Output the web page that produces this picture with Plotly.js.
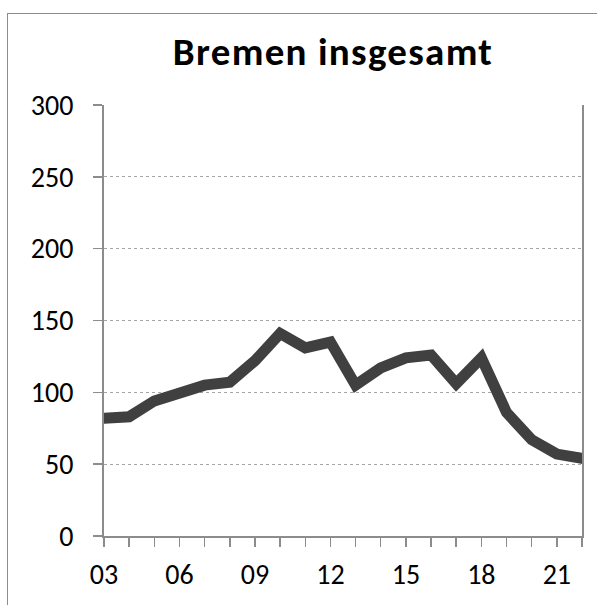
<!DOCTYPE html>
<html>
<head>
<meta charset="utf-8">
<script src="https://cdn.plot.ly/plotly-3.0.1.min.js"></script>
<style>
  html, body { margin: 0; padding: 0; background: #fff; }
  #frame { position: absolute; left: 7px; top: 13px; width: 620px; height: 620px; border: 1.5px solid #8c8c8c; box-sizing: border-box; pointer-events: none; }
  #chart { position: absolute; left: 0; top: 0; width: 597px; height: 605px; }
  path.js-line { stroke-linecap: round; }
  .gtitle { letter-spacing: 1.3px; }
</style>
</head>
<body>
<div id="chart"></div>
<div id="frame"></div>
<script>
const years = [3, 4, 5, 6, 7, 8, 9, 10, 11, 12, 13, 14, 15, 16, 17, 18, 19, 20, 21, 22];
const values = [82, 83, 94, 100, 105, 107, 122, 141, 131, 135, 105, 117, 124, 126, 106, 124, 86, 67, 57, 54];
const tickLabels = ['03', '', '', '06', '', '', '09', '', '', '12', '', '', '15', '', '', '18', '', '', '21', ''];
const yTicks = [0, 50, 100, 150, 200, 250, 300];
const chartTitle = 'Bremen insgesamt';

const font = 'Carlito, "Open Sans", "Liberation Sans", sans-serif';

Plotly.newPlot('chart', [{
  x: years,
  y: values,
  type: 'scatter',
  mode: 'lines',
  line: { color: '#404040', width: 11 },
  hoverinfo: 'skip'
}], {
  width: 597,
  height: 605,
  margin: { l: 104, r: 15, t: 105, b: 69 },
  paper_bgcolor: '#fff',
  plot_bgcolor: '#fff',
  showlegend: false,
  title: {
    text: '<b>' + chartTitle + '</b>',
    x: 333 / 597,
    xanchor: 'center',
    y: 1 - 51 / 605,
    yanchor: 'middle',
    font: { family: font, size: 39, color: '#000' }
  },
  xaxis: {
    range: [3, 22],
    tickmode: 'array',
    tickvals: years,
    ticktext: tickLabels,
    ticks: 'outside',
    ticklen: 9,
    tickwidth: 1.5,
    tickcolor: '#8c8c8c',
    showline: true,
    linecolor: '#8c8c8c',
    linewidth: 2,
    showgrid: false,
    zeroline: false,
    ticklabelstandoff: 3,
    tickfont: { family: font, size: 28, color: '#000' },
    fixedrange: true
  },
  yaxis: {
    range: [0, 300],
    tickmode: 'array',
    tickvals: yTicks,
    ticks: 'outside',
    ticklen: 9,
    tickwidth: 1.5,
    tickcolor: '#8c8c8c',
    showline: true,
    mirror: true,
    linecolor: '#8c8c8c',
    linewidth: 2,
    showgrid: true,
    gridcolor: '#a6a6a6',
    gridwidth: 1,
    griddash: 'dot',
    zeroline: false,
    ticklabelstandoff: 14,
    tickfont: { family: font, size: 28, color: '#000' },
    fixedrange: true
  }
}, { displayModeBar: false, staticPlot: true });
</script>
</body>
</html>
